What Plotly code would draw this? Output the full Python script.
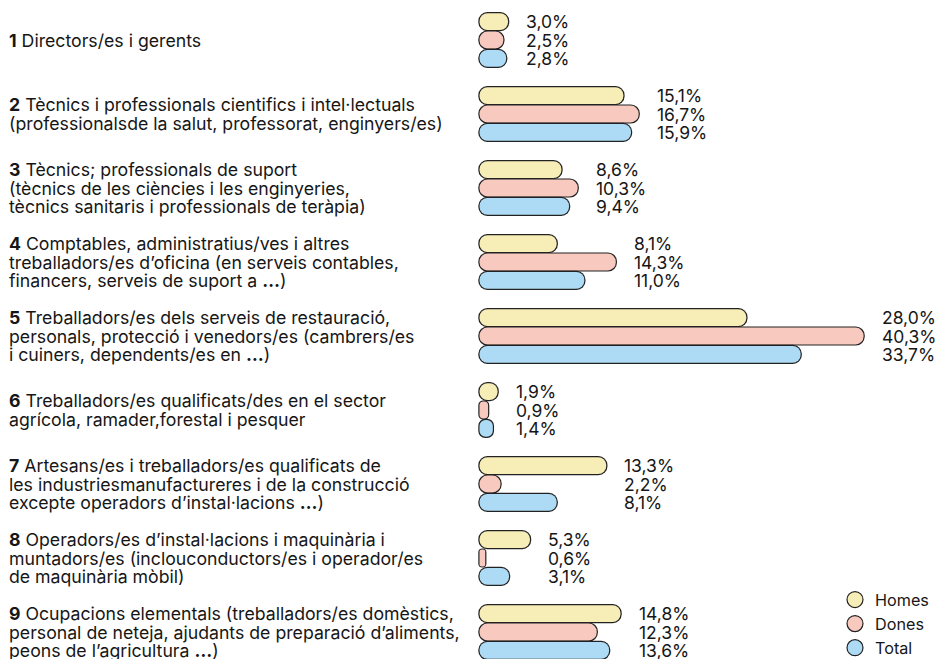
import plotly.graph_objects as go

# ---------------- data ----------------
codes = ["1", "2", "3", "4", "5", "6", "7", "8", "9"]
label_lines = [
    ["<b>1</b> Directors/es i gerents"],
    ["<b>2</b> Tècnics i professionals cientifics i intel·lectuals",
     "(professionalsde la salut, professorat, enginyers/es)"],
    ["<b>3</b> Tècnics; professionals de suport",
     "(tècnics de les ciències i les enginyeries,",
     "tècnics sanitaris i professionals de teràpia)"],
    ["<b>4</b> Comptables, administratius/ves i altres",
     "treballadors/es d’oficina (en serveis contables,",
     "financers, serveis de suport a <b>…</b>)"],
    ["<b>5</b> Treballadors/es dels serveis de restauració,",
     "personals, protecció i venedors/es (cambrers/es",
     "i cuiners, dependents/es en <b>…</b>)"],
    ["<b>6</b> Treballadors/es qualificats/des en el sector",
     "agrícola, ramader,forestal i pesquer"],
    ["<b>7</b> Artesans/es i treballadors/es qualificats de",
     "les industriesmanufactureres i de la construcció",
     "excepte operadors d’instal·lacions <b>…</b>)"],
    ["<b>8</b> Operadors/es d’instal·lacions i maquinària i",
     "muntadors/es (inclouconductors/es i operador/es",
     "de maquinària mòbil)"],
    ["<b>9</b> Ocupacions elementals (treballadors/es domèstics,",
     "personal de neteja, ajudants de preparació d’aliments,",
     "peons de l’agricultura <b>…</b>)"],
]
series_names = ["Homes", "Dones", "Total"]
homes = [3.0, 15.1, 8.6, 8.1, 28.0, 1.9, 13.3, 5.3, 14.8]
dones = [2.5, 16.7, 10.3, 14.3, 40.3, 0.9, 2.2, 0.6, 12.3]
total = [2.8, 15.9, 9.4, 11.0, 33.7, 1.4, 8.1, 3.1, 13.6]

# ---------------- style ----------------
colors = ["#F7EDB7", "#F8C9BE", "#ADDBF5"]
outline = "#222222"
FONT = "Inter"
TXT = "#161616"

W, H = 939, 659
ML = 460
PX_PER = 9.53          # pixels per percentage point
X0_PX = 479.5          # pixel where value 0 sits
CAT_PX = 74.0          # pixels per category
Y0_PX = 40.0           # pixel centre of first category
plot_w = W - ML
xmin = -(X0_PX - ML) / PX_PER
xmax = xmin + plot_w / PX_PER
ymin_top = -Y0_PX / CAT_PX
ymax_bot = (H - Y0_PX) / CAT_PX

S = 18.4 / CAT_PX        # spacing between bar centres
T_OUT = 19.2 / CAT_PX    # outer (outline) thickness
T_IN = 16.8 / CAT_PX     # inner thickness
EXT = 1.2 / PX_PER       # outline thickness along value axis

fig = go.Figure()
idx = list(range(len(codes)))
all_series = [homes, dones, total]

for s, (vals, col) in enumerate(zip(all_series, colors)):
    centre = (s - 1) * S
    for thick, ext, fill in [(T_OUT, EXT, outline), (T_IN, 0.0, col)]:
        fig.add_trace(go.Bar(
            y=idx, x=[v + 2 * ext for v in vals], base=[-ext for _ in vals],
            orientation="h", width=thick, offset=centre - thick / 2,
            marker=dict(color=fill, line=dict(width=0), cornerradius="50%"),
            showlegend=False, hoverinfo="skip", cliponaxis=False))

# legend entries
for name, col in zip(series_names, colors):
    fig.add_trace(go.Scatter(
        x=[None], y=[None], mode="markers", name=name,
        marker=dict(symbol="circle", size=18, color=col, line=dict(color=outline, width=1.2))))

annotations = []
# category labels
lab_x = (7 - ML) / plot_w
for i, lines in enumerate(label_lines):
    n = len(lines)
    for k, line in enumerate(lines):
        annotations.append(dict(
            xref="paper", yref="y", x=lab_x, y=i + (k - (n - 1) / 2) * S,
            text=line, showarrow=False, xanchor="left", yanchor="middle",
            align="left", font=dict(family=FONT, size=17.7, color=TXT)))

# value labels
for i in idx:
    gmax = max(homes[i], dones[i], total[i])
    for s, vals in enumerate(all_series):
        annotations.append(dict(
            xref="x", yref="y", x=gmax + EXT, y=i + (s - 1) * S,
            text=f"{vals[i]:.1f}%".replace(".", ","), showarrow=False,
            xanchor="left", yanchor="middle", xshift=15,
            font=dict(family=FONT, size=17.5, color=TXT)))

fig.update_layout(
    width=W, height=H,
    margin=dict(l=ML, r=0, t=0, b=0, autoexpand=False),
    paper_bgcolor="white", plot_bgcolor="white",
    barmode="overlay",
    xaxis=dict(range=[xmin, xmax], visible=False, fixedrange=True),
    yaxis=dict(range=[ymax_bot, ymin_top], visible=False, fixedrange=True),
    annotations=annotations,
    legend=dict(x=(835 - ML) / plot_w, y=1 - 582.5 / H, xanchor="left", yanchor="top",
                font=dict(family=FONT, size=16.2, color=TXT), bgcolor="rgba(0,0,0,0)",
                itemsizing="trace"),
    font=dict(family=FONT),
)

fig.write_html("out.html", config={"displayModeBar": False},
               post_script="document.body.style.margin='0';")
